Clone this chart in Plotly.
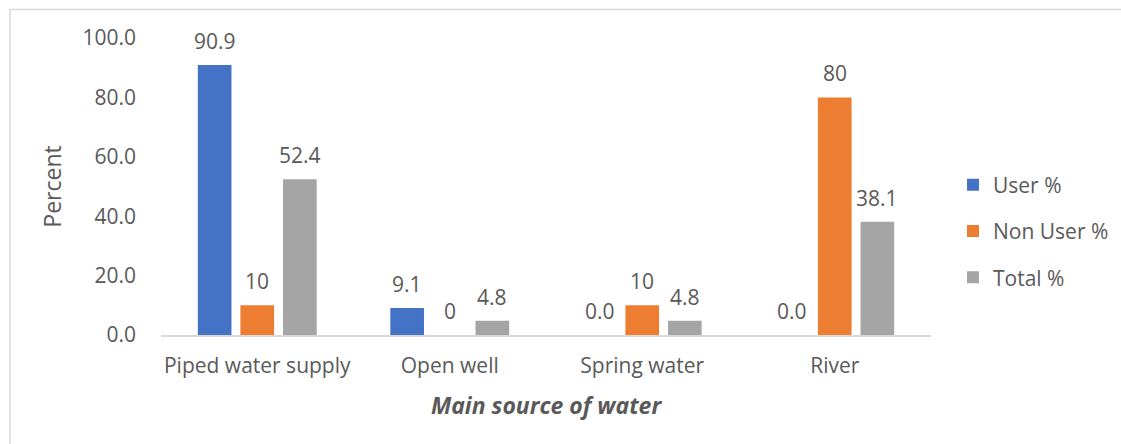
import plotly.graph_objects as go

# Main source of water, by group
categories = ["Piped water supply", "Open well", "Spring water", "River"]
user_pct = [90.9, 9.1, 0.0, 0.0]
non_user_pct = [10, 0, 10, 80]
total_pct = [52.4, 4.8, 4.8, 38.1]

# Label strings as printed above each bar
user_labels = ["90.9", "9.1", "0.0", "0.0"]
non_user_labels = ["10", "0", "10", "80"]
total_labels = ["52.4", "4.8", "4.8", "38.1"]

series = [
    ("User %", user_pct, user_labels, "#4472C4"),
    ("Non User %", non_user_pct, non_user_labels, "#ED7D31"),
    ("Total %", total_pct, total_labels, "#A5A5A5"),
]

FONT = "Open Sans, sans-serif"
TEXT = "#595959"
FS = 21

W, H = 1121, 444
ML, MR, MT, MB = 161, 190, 38, 109
plot_w = W - ML - MR
plot_h = H - MT - MB
BARGAP = 0.336
GROUPGAP = 0.21
slot_px = plot_w / len(categories) * (1 - BARGAP) / len(series)

fig = go.Figure()
annotations = []
for j, (name, vals, labels, color) in enumerate(series):
    fig.add_trace(go.Bar(
        x=categories, y=vals, name=name, marker_color=color,
        marker_line_width=0, legendgroup=name,
    ))
    for cat, v, lab in zip(categories, vals, labels):
        annotations.append(dict(
            x=cat, y=v, xref="x", yref="y", text=lab, showarrow=False,
            xshift=(j - 1) * slot_px, yshift=24, yanchor="middle",
            font=dict(family=FONT, size=FS, color=TEXT),
        ))

# light frame around the chart area
def px_to_paper_x(p):
    return (p - ML) / plot_w

def px_to_paper_y(p):
    return (H - MB - p) / plot_h

shapes = [dict(
    type="rect", xref="paper", yref="paper",
    x0=px_to_paper_x(10), x1=px_to_paper_x(1130),
    y0=px_to_paper_y(460), y1=px_to_paper_y(9.5),
    line=dict(color="#D9D9D9", width=1.5), fillcolor="rgba(0,0,0,0)", layer="below",
)]

fig.update_layout(
    width=W, height=H,
    margin=dict(l=ML, r=MR, t=MT, b=MB, autoexpand=False),
    paper_bgcolor="white", plot_bgcolor="white",
    barmode="group", bargap=BARGAP, bargroupgap=GROUPGAP,
    font=dict(family=FONT, size=FS, color=TEXT),
    showlegend=True,
    legend=dict(
        x=px_to_paper_x(953), y=0.35, xanchor="left", yanchor="middle",
        font=dict(family=FONT, size=FS, color=TEXT),
        tracegroupgap=16, itemwidth=30, bgcolor="rgba(0,0,0,0)",
    ),
    annotations=annotations,
    shapes=shapes,
)
fig.update_xaxes(
    showgrid=False, showline=True, linecolor="#D9D9D9", linewidth=1.5,
    ticks="", ticklabelstandoff=11, tickfont=dict(family=FONT, size=FS, color=TEXT),
    title=dict(text="<b><i>Main source of water</i></b>", standoff=20,
               font=dict(family=FONT, size=23, color=TEXT)),
)
fig.update_yaxes(
    range=[0, 100], dtick=20, tickformat=".1f", showgrid=False, zeroline=False,
    showline=False, ticks="", ticklabelstandoff=24,
    tickfont=dict(family=FONT, size=FS, color=TEXT),
    title=dict(text="Percent", standoff=14, font=dict(family=FONT, size=23, color=TEXT)),
)

fig.write_html("out.html")
